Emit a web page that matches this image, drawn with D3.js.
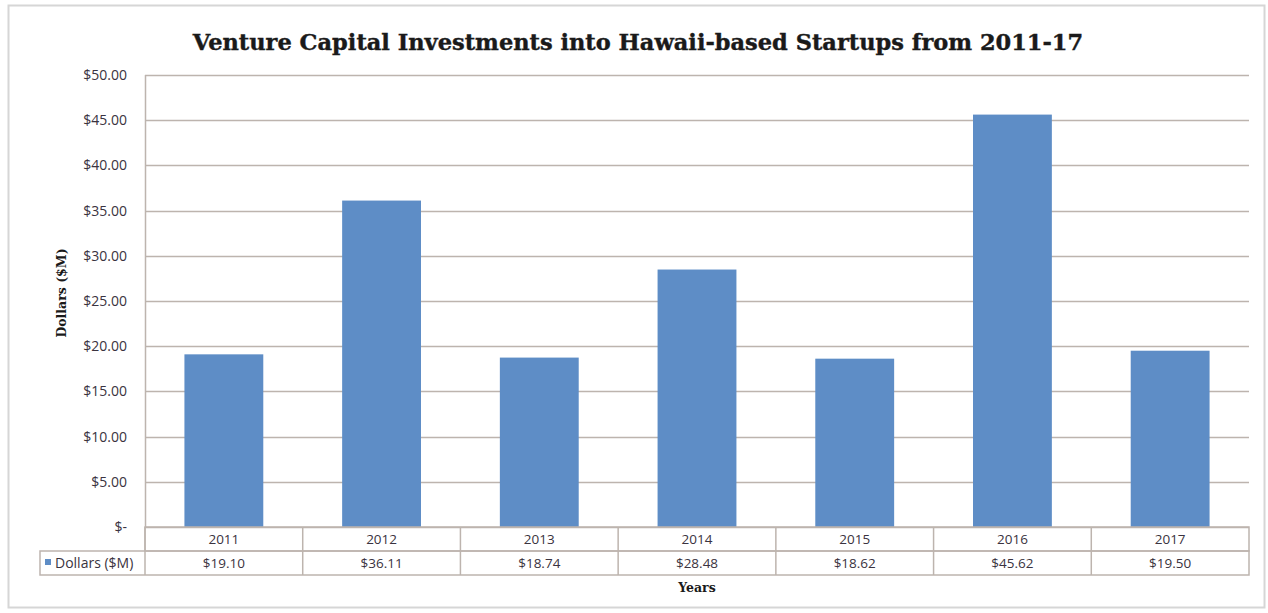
<!DOCTYPE html>
<html>
<head>
<meta charset="utf-8">
<script src="https://cdn.jsdelivr.net/npm/d3@7"></script>
<style>
  body { margin: 0; background: #fff; }
  svg { display: block; }
</style>
</head>
<body>
<svg width="1268" height="613"></svg>
<script>
// chart data
var years = ["2011", "2012", "2013", "2014", "2015", "2016", "2017"];
var dollars = [19.10, 36.11, 18.74, 28.48, 18.62, 45.62, 19.50];
var yTicks = [0, 5, 10, 15, 20, 25, 30, 35, 40, 45, 50];
var seriesName = "Dollars ($M)";

var svg = d3.select("svg");

var barColor = "#5e8dc6",
    gridColor = "#bdb4ae",
    textColor = "#3a3340";

// outer frame (drawn first so it stays behind)
svg.append("rect")
  .attr("x", 8.5).attr("y", 5.5)
  .attr("width", 1256).attr("height", 602)
  .attr("fill", "#fff")
  .attr("stroke", "#d6d6d6")
  .attr("stroke-width", 2);

var margin = {top: 75, right: 20, bottom: 86, left: 145},
    width = 1249 - margin.left,
    height = 527 - margin.top,
    g = svg.append("g").attr("transform", "translate(" + margin.left + "," + margin.top + ")");

svg.append("text")
  .attr("x", 638)
  .attr("y", 50)
  .attr("text-anchor", "middle")
  .attr("font-family", "DejaVu Serif")
  .attr("font-weight", "bold")
  .attr("font-size", "22.5px")
  .attr("fill", "#1a1a1a")
  .attr("stroke", "#1a1a1a")
  .attr("stroke-width", 0.4)
  .text("Venture Capital Investments into Hawaii-based Startups from 2011-17");

var x = d3.scaleBand()
  .domain(years)
  .range([0, width])
  .paddingInner(0.5)
  .paddingOuter(0.25);

var xCol = d3.scaleBand().domain(years).range([0, width]);

var y = d3.scaleLinear()
  .domain([0, 50])
  .range([height, 0]);

// gridlines
g.append("g")
  .selectAll("line")
  .data(yTicks)
  .enter().append("line")
    .attr("x1", 0)
    .attr("x2", width)
    .attr("y1", function(d) { return Math.round(y(d)) + 0.5; })
    .attr("y2", function(d) { return Math.round(y(d)) + 0.5; })
    .attr("stroke", gridColor)
    .attr("stroke-width", 1.5);

// y axis line
g.append("line")
  .attr("x1", 0.5).attr("x2", 0.5)
  .attr("y1", 0).attr("y2", height)
  .attr("stroke", gridColor)
  .attr("stroke-width", 1.5);

// y tick labels
g.append("g")
  .selectAll("text")
  .data(yTicks)
  .enter().append("text")
    .attr("x", -18)
    .attr("y", function(d) { return y(d); })
    .attr("dy", "0.35em")
    .attr("text-anchor", "end")
    .attr("font-family", "Open Sans")
    .attr("font-size", "14px")
    .attr("fill", textColor)
    .text(function(d) { return d === 0 ? "$-" : "$" + d.toFixed(2); });

// bars
g.append("g")
  .selectAll("rect")
  .data(dollars)
  .enter().append("rect")
    .attr("x", function(d, i) { return x(years[i]); })
    .attr("y", function(d) { return y(d); })
    .attr("width", x.bandwidth())
    .attr("height", function(d) { return height - y(d); })
    .attr("fill", barColor);

// data table
var rowH = 24;
var table = g.append("g").attr("transform", "translate(0," + height + ")");

table.append("rect")
  .attr("x", 0).attr("y", 0)
  .attr("width", width).attr("height", rowH)
  .attr("fill", "none").attr("stroke", gridColor).attr("stroke-width", 1.5);

table.append("rect")
  .attr("x", 40 - margin.left).attr("y", rowH)
  .attr("width", width + margin.left - 40).attr("height", rowH)
  .attr("fill", "none").attr("stroke", gridColor).attr("stroke-width", 1.5);

table.selectAll(".sep")
  .data(years.slice(1))
  .enter().append("line")
    .attr("class", "sep")
    .attr("x1", function(d) { return xCol(d); })
    .attr("x2", function(d) { return xCol(d); })
    .attr("y1", 0).attr("y2", rowH * 2)
    .attr("stroke", gridColor).attr("stroke-width", 1.5);

table.append("line")
  .attr("x1", 0).attr("x2", 0)
  .attr("y1", 0).attr("y2", rowH * 2)
  .attr("stroke", gridColor).attr("stroke-width", 1.5);

table.selectAll(".yr")
  .data(years)
  .enter().append("text")
    .attr("class", "yr")
    .attr("x", function(d) { return xCol(d) + xCol.bandwidth() / 2; })
    .attr("y", rowH / 2)
    .attr("dy", "0.35em")
    .attr("text-anchor", "middle")
    .attr("font-family", "Open Sans")
    .attr("font-size", "13.5px")
    .attr("fill", textColor)
    .text(function(d) { return d; });

table.selectAll(".val")
  .data(dollars)
  .enter().append("text")
    .attr("class", "val")
    .attr("x", function(d, i) { return xCol(years[i]) + xCol.bandwidth() / 2; })
    .attr("y", rowH * 1.5)
    .attr("dy", "0.35em")
    .attr("text-anchor", "middle")
    .attr("font-family", "Open Sans")
    .attr("font-size", "13.5px")
    .attr("fill", textColor)
    .text(function(d) { return "$" + d.toFixed(2); });

// legend key in table
table.append("rect")
  .attr("x", 45 - margin.left).attr("y", rowH + 8)
  .attr("width", 6).attr("height", 6)
  .attr("fill", barColor);

table.append("text")
  .attr("x", 55 - margin.left)
  .attr("y", rowH * 1.5)
  .attr("dy", "0.35em")
  .attr("font-family", "Open Sans")
  .attr("font-size", "14px")
  .attr("fill", textColor)
  .text(seriesName);

// axis titles
svg.append("text")
  .attr("transform", "translate(66,293) rotate(-90)")
  .attr("text-anchor", "middle")
  .attr("font-family", "DejaVu Serif")
  .attr("font-weight", "bold")
  .attr("font-size", "12.5px")
  .attr("fill", "#1a1a1a")
  .text("Dollars ($M)");

svg.append("text")
  .attr("x", margin.left + width / 2)
  .attr("y", 592)
  .attr("text-anchor", "middle")
  .attr("font-family", "DejaVu Serif")
  .attr("font-weight", "bold")
  .attr("font-size", "12.5px")
  .attr("fill", "#1a1a1a")
  .text("Years");
</script>
</body>
</html>
